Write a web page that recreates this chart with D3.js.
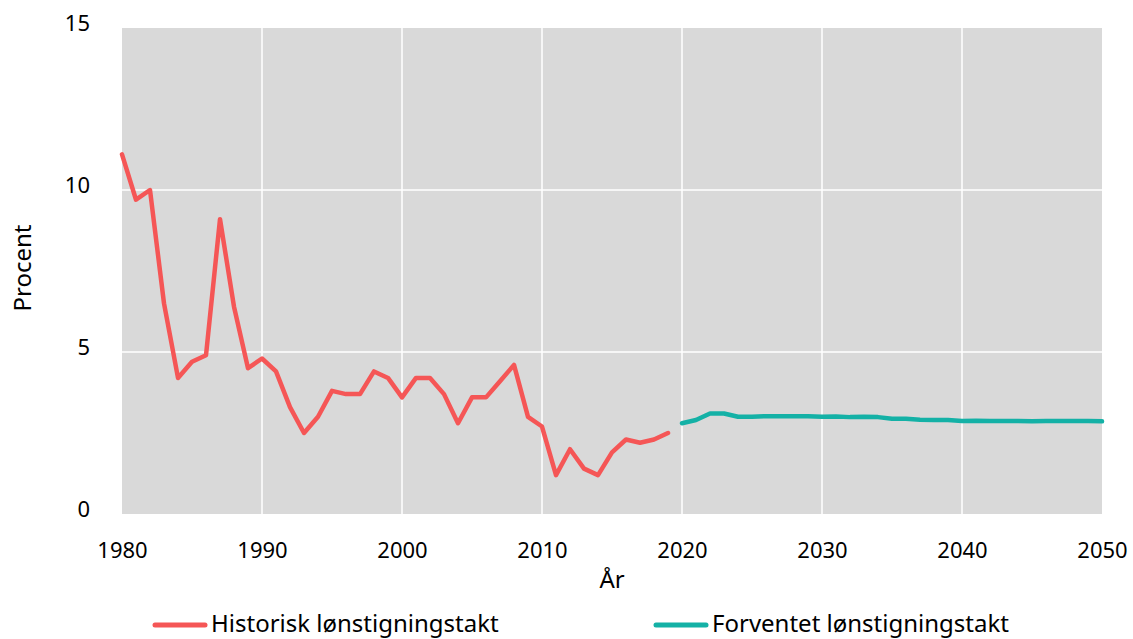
<!DOCTYPE html>
<html>
<head>
<meta charset="utf-8">
<script src="https://cdn.jsdelivr.net/npm/d3@7"></script>
<style>
  body { margin: 0; background: #fff; }
  text { font-family: "Noto Sans", "Open Sans", sans-serif; fill: #000; }
</style>
</head>
<body>
<div id="chart"></div>
<script>
var histYears = d3.range(1980, 2020);
var histValues = [11.1, 9.7, 10.0, 6.5, 4.2, 4.7, 4.9, 9.1, 6.4, 4.5,
                  4.8, 4.4, 3.3, 2.5, 3.0, 3.8, 3.7, 3.7, 4.4, 4.2,
                  3.6, 4.2, 4.2, 3.7, 2.8, 3.6, 3.6, 4.1, 4.6, 3.0,
                  2.7, 1.2, 2.0, 1.4, 1.2, 1.9, 2.3, 2.2, 2.3, 2.5];
var progYears = d3.range(2020, 2051);
var progValues = [2.8, 2.9, 3.1, 3.1, 3.0, 3.0, 3.02, 3.02, 3.02, 3.02,
                  3.0, 3.01, 2.99, 3.0, 2.99, 2.94, 2.94, 2.91, 2.9, 2.9,
                  2.87, 2.88, 2.87, 2.87, 2.87, 2.86, 2.87, 2.87, 2.87, 2.87, 2.86];
var xTicks = [1980, 1990, 2000, 2010, 2020, 2030, 2040, 2050];
var yTicks = [0, 5, 10, 15];
var seriesNames = ["Historisk lønstigningstakt", "Forventet lønstigningstakt"];
var seriesColors = ["#f55656", "#14b1a6"];

function plotChart(containerId) {
    var WIDTH = 1133;
    var HEIGHT = 639;
    var MARGINS = {top: 28, right: 31, bottom: 125, left: 122};

    var svg = d3.select('#' + containerId).append("svg")
        .attr("width", WIDTH)
        .attr("height", HEIGHT);

    var xScale = d3.scaleLinear().range([MARGINS.left, WIDTH - MARGINS.right]).domain([1980, 2050]);
    var yScale = d3.scaleLinear().range([HEIGHT - MARGINS.bottom, MARGINS.top]).domain([0, 15]);

    svg.append("rect")
        .attr("x", xScale(1980))
        .attr("y", yScale(15))
        .attr("width", xScale(2050) - xScale(1980))
        .attr("height", yScale(0) - yScale(15))
        .style("fill", "#d9d9d9");

    svg.append("g").selectAll("line")
        .data(xTicks.slice(1, -1))
        .enter().append("line")
        .attr("x1", function(d) { return xScale(d); })
        .attr("x2", function(d) { return xScale(d); })
        .attr("y1", yScale(0))
        .attr("y2", yScale(15))
        .style("stroke", "#fff")
        .style("stroke-width", 1.5);

    svg.append("g").selectAll("line")
        .data(yTicks.slice(1, -1))
        .enter().append("line")
        .attr("x1", xScale(1980))
        .attr("x2", xScale(2050))
        .attr("y1", function(d) { return yScale(d); })
        .attr("y2", function(d) { return yScale(d); })
        .style("stroke", "#fff")
        .style("stroke-width", 1.5);

    var xAxis = d3.axisBottom(xScale).tickValues(xTicks).tickFormat(d3.format("d")).tickSize(0).tickPadding(0);
    var yAxis = d3.axisLeft(yScale).tickValues(yTicks).tickSize(0).tickPadding(0);

    var gx = svg.append("g")
        .attr("transform", "translate(0, " + (yScale(0) + 44) + ")")
        .style("font-size", "22px")
        .call(xAxis);
    gx.select(".domain").remove();
    gx.selectAll("text").attr("dy", "0").attr("font-family", null);

    var gy = svg.append("g")
        .attr("transform", "translate(" + (MARGINS.left - 32) + ", -5)")
        .style("font-size", "22px")
        .call(yAxis);
    gy.select(".domain").remove();
    gy.selectAll("text").attr("dy", "0.35em").attr("font-family", null);

    svg.append("text")
        .attr("x", (xScale(1980) + xScale(2050)) / 2)
        .attr("y", 588)
        .attr("text-anchor", "middle")
        .style("font-size", "24px")
        .text("År");

    svg.append("text")
        .attr("transform", "translate(31, " + (yScale(7.5) - 3) + ") rotate(-90)")
        .attr("text-anchor", "middle")
        .style("font-size", "24px")
        .text("Procent");

    var line = d3.line()
        .x(function(d) { return xScale(d[0]); })
        .y(function(d) { return yScale(d[1]); });

    var series = [d3.zip(histYears, histValues), d3.zip(progYears, progValues)];

    svg.append("g").selectAll("path")
        .data(series)
        .enter().append("path")
        .attr("d", line)
        .style("fill", "none")
        .style("stroke", function(d, i) { return seriesColors[i]; })
        .style("stroke-width", 4.5)
        .style("stroke-linejoin", "round")
        .style("stroke-linecap", "round");

    var legendX = [155, 656];
    var legend = svg.append("g").selectAll("g")
        .data(seriesNames)
        .enter().append("g")
        .attr("transform", function(d, i) { return "translate(" + legendX[i] + ", 625)"; });

    legend.append("line")
        .attr("x1", 0).attr("x2", 50)
        .style("stroke", function(d, i) { return seriesColors[i]; })
        .style("stroke-width", 5)
        .style("stroke-linecap", "round");

    legend.append("text")
        .attr("x", 56)
        .attr("dy", "0.3em")
        .style("font-size", "24px")
        .text(function(d) { return d; });
}

plotChart("chart");
</script>
</body>
</html>
